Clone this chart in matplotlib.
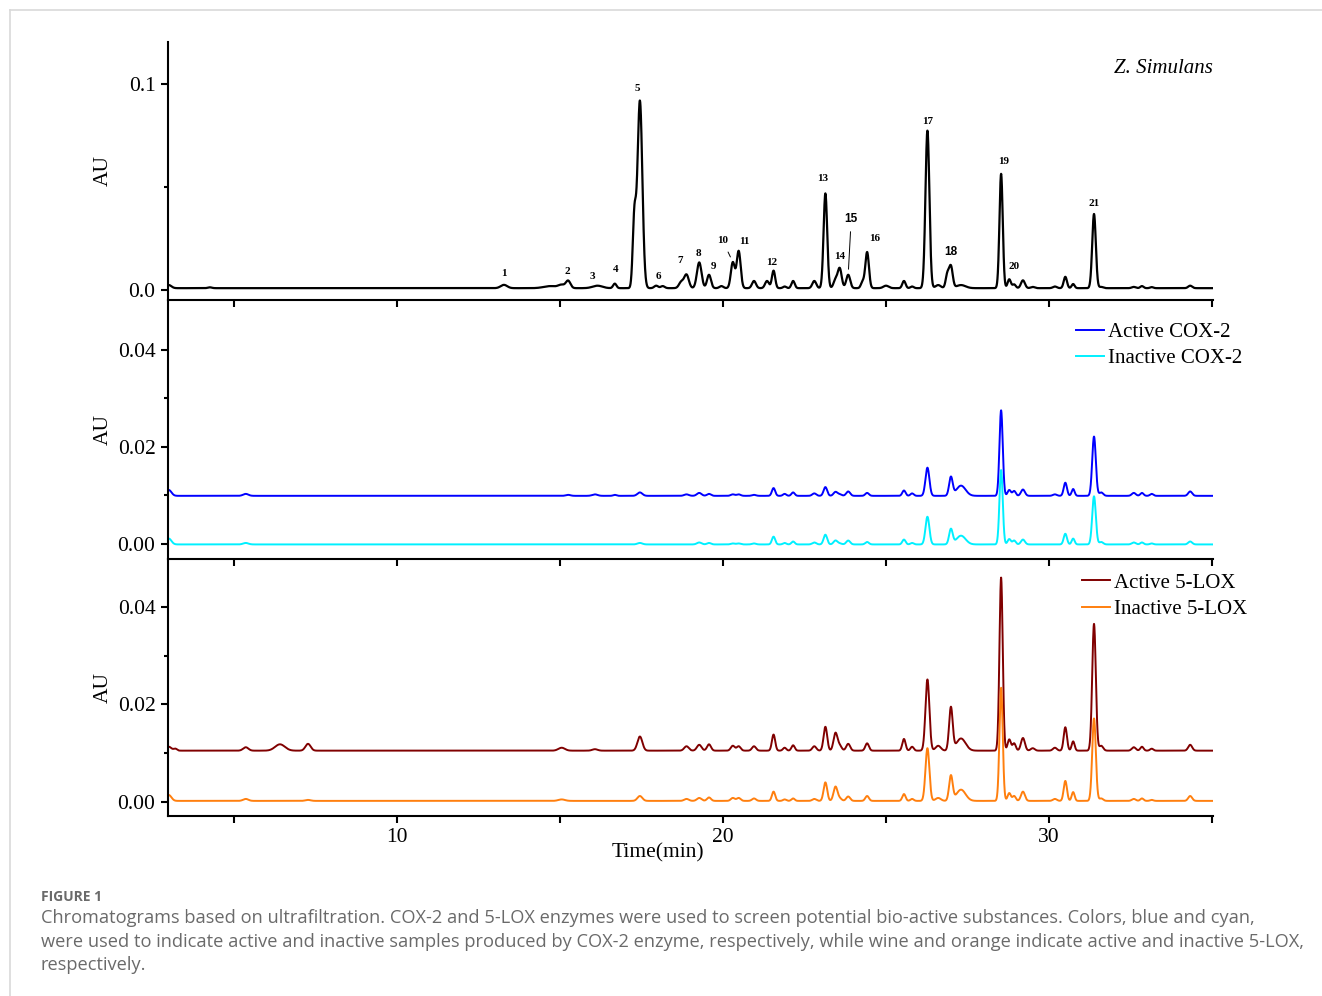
import numpy as np
import matplotlib.pyplot as plt
from matplotlib.lines import Line2D

# peak table (retention time in min, width sigma in min,
# peak height in AU above each trace's baseline)
rt = [3.00, 3.20, 4.26, 5.36, 6.41, 7.27, 13.28, 14.70, 15.05, 15.25, 16.07, 16.15,
      16.68, 17.28, 17.45, 17.95, 18.15, 18.72, 18.88, 19.27, 19.57, 19.95, 20.30,
      20.48, 20.95, 21.35, 21.55, 21.89, 22.15, 22.80, 23.14, 23.45, 23.58, 23.84,
      24.28, 24.42, 25.00, 25.55, 25.80, 26.27, 26.60, 26.88, 26.99, 27.30, 28.53,
      28.78, 28.93, 29.20, 29.50, 30.18, 30.50, 30.74, 31.38, 31.60, 32.60, 32.85,
      33.15, 34.33]
width = [0.08, 0.05, 0.06, 0.08, 0.15, 0.08, 0.10, 0.20, 0.10, 0.07, 0.08, 0.15,
         0.05, 0.05, 0.075, 0.06, 0.06, 0.07, 0.07, 0.07, 0.06, 0.06, 0.06,
         0.06, 0.06, 0.06, 0.05, 0.05, 0.05, 0.06, 0.055, 0.06, 0.06, 0.06,
         0.05, 0.055, 0.08, 0.05, 0.05, 0.06, 0.08, 0.05, 0.055, 0.14, 0.05,
         0.05, 0.05, 0.06, 0.06, 0.06, 0.05, 0.045, 0.055, 0.06, 0.06, 0.05,
         0.05, 0.06]
zs_height = [0.0015, 0.0, 0.0004, 0.0, 0.0, 0.0, 0.0016, 0.0010, 0.0015, 0.0035, 0.0, 0.0012,
             0.0022, 0.0330, 0.0910, 0.0012, 0.0010, 0.0030, 0.0065, 0.0125, 0.0065, 0.0010, 0.0125,
             0.0180, 0.0035, 0.0035, 0.0085, 0.0008, 0.0035, 0.0035, 0.0460, 0.0040, 0.0095, 0.0065,
             0.0030, 0.0175, 0.0012, 0.0035, 0.0008, 0.0765, 0.0015, 0.0065, 0.0105, 0.0015, 0.0555,
             0.0043, 0.0018, 0.0038, 0.0006, 0.0008, 0.0055, 0.0020, 0.0360, 0.0006, 0.0006, 0.0010,
             0.0005, 0.0012]
cox_active = [0.0012, 0.0, 0.0, 0.0004, 0.0, 0.0, 0.0, 0.0, 0.0, 0.0002, 0.0003, 0.0,
              0.0002, 0.0, 0.0007, 0.0, 0.0, 0.0, 0.0003, 0.0006, 0.0004, 0.0, 0.0003,
              0.0003, 0.0002, 0.0, 0.0016, 0.0004, 0.0007, 0.0005, 0.0018, 0.0008, 0.0003, 0.0009,
              0.0, 0.0006, 0.0, 0.0011, 0.0005, 0.0058, 0.0, 0.0, 0.0038, 0.0021, 0.0176,
              0.0012, 0.0010, 0.0013, 0.0, 0.0003, 0.0027, 0.0014, 0.0122, 0.0007, 0.0006, 0.0006,
              0.0004, 0.0009]
cox_inactive = [0.0012, 0.0, 0.0, 0.0003, 0.0, 0.0, 0.0, 0.0, 0.0, 0.0, 0.0, 0.0,
                0.0, 0.0, 0.0003, 0.0, 0.0, 0.0, 0.0, 0.0004, 0.0003, 0.0, 0.0002,
                0.0002, 0.0002, 0.0, 0.0016, 0.0003, 0.0006, 0.0004, 0.0020, 0.0008, 0.0002, 0.0008,
                0.0, 0.0005, 0.0, 0.0010, 0.0003, 0.0057, 0.0, 0.0, 0.0031, 0.0018, 0.0153,
                0.0011, 0.0008, 0.0010, 0.0, 0.0, 0.0022, 0.0012, 0.0099, 0.0005, 0.0004, 0.0004,
                0.0002, 0.0006]
lox_active = [0.0008, 0.0004, 0.0, 0.0007, 0.0013, 0.0014, 0.0, 0.0, 0.0006, 0.0, 0.0003, 0.0,
              0.0, 0.0, 0.0029, 0.0, 0.0, 0.0, 0.0009, 0.0012, 0.0013, 0.0, 0.0010,
              0.0009, 0.0009, 0.0, 0.0033, 0.0006, 0.0011, 0.0009, 0.0049, 0.0036, 0.0010, 0.0014,
              0.0, 0.0015, 0.0, 0.0024, 0.0008, 0.0146, 0.0010, 0.0, 0.0088, 0.0025, 0.0355,
              0.0023, 0.0015, 0.0026, 0.0005, 0.0006, 0.0048, 0.0019, 0.0260, 0.0010, 0.0007, 0.0008,
              0.0004, 0.0012]
lox_inactive = [0.0012, 0.0, 0.0, 0.0004, 0.0, 0.0002, 0.0, 0.0, 0.0003, 0.0, 0.0, 0.0,
                0.0, 0.0, 0.0010, 0.0, 0.0, 0.0, 0.0004, 0.0006, 0.0007, 0.0, 0.0006,
                0.0006, 0.0005, 0.0, 0.0019, 0.0003, 0.0005, 0.0004, 0.0038, 0.0029, 0.0005, 0.0009,
                0.0, 0.0010, 0.0, 0.0014, 0.0004, 0.0108, 0.0006, 0.0, 0.0051, 0.0023, 0.0232,
                0.0016, 0.0010, 0.0019, 0.0, 0.0004, 0.0041, 0.0018, 0.0169, 0.0005, 0.0004, 0.0005,
                0.0002, 0.0010]

# baseline level of each run (AU)
zs_base = 0.0009
cox_active_base = 0.0099
cox_inactive_base = -0.0001
lox_active_base = 0.0105
lox_inactive_base = 0.0002

# numbered peaks in the Z. simulans trace
label_text = [str(i) for i in range(1, 22)]
label_rt = [13.28, 15.25, 16.15, 16.68, 17.45, 17.95, 18.88, 19.27, 19.57, 20.30, 20.48,
            21.55, 23.14, 23.58, 23.84, 24.42, 26.27, 26.99, 28.53, 28.78, 31.38]

# label offsets from peak apex, in pixels (dx, dy)
label_offset = [(0, 11), (-1, 9), (-5, 9), (1, 14), (-3, 12), (2, 9), (-6, 14), (-1, 9), (4, 8),
                (-10, 21), (6, 9), (-2, 8), (-3, 15), (0, 11), (3, 56), (8, 13), (0, 9),
                (0, 13), (3, 12), (5, 13), (0, 11)]

t = np.linspace(2.9, 35.1, 8000)


def trace(heights, base):
    y = np.full_like(t, base)
    for r, s, h in zip(rt, width, heights):
        if h:
            y += h * np.exp(-0.5 * ((t - r) / s) ** 2)
    return y


plt.rcParams['font.family'] = ['Liberation Serif', 'DejaVu Serif']
plt.rcParams['axes.linewidth'] = 1.5
plt.rcParams['xtick.major.width'] = 1.5
plt.rcParams['ytick.major.width'] = 1.5
plt.rcParams['xtick.minor.width'] = 1.5
plt.rcParams['ytick.minor.width'] = 1.5

fig = plt.figure(figsize=(13.22, 9.96), dpi=100)
W, H = 1322.0, 996.0
left, right = 168 / W, 1213 / W
ax1 = fig.add_axes([left, 1 - 300 / H, right - left, 258 / H])
ax2 = fig.add_axes([left, 1 - 559 / H, right - left, 259 / H])
ax3 = fig.add_axes([left, 1 - 816 / H, right - left, 257 / H])

for ax in (ax1, ax2, ax3):
    ax.set_facecolor('none')
    ax.spines['top'].set_visible(False)
    ax.spines['right'].set_visible(False)
    ax.set_xlim(2.975, 35.03)
    ax.set_xticks([10, 20, 30])
    ax.set_xticks([5, 15, 25, 35], minor=True)
    ax.tick_params(axis='both', which='major', direction='out', length=5, pad=4, labelsize=15.5)
    ax.tick_params(axis='both', which='minor', direction='out', length=3)
    ax.tick_params(axis='x', which='minor', length=5)
    ax.set_ylabel('AU', fontsize=15.5)
    ax.yaxis.set_label_coords(-0.0526, 0.5)
ax1.set_zorder(3)
ax2.set_zorder(2)
ax1.tick_params(axis='x', labelbottom=False)
ax2.tick_params(axis='x', labelbottom=False)

# top: Z. simulans extract
y_zs = trace(zs_height, zs_base)
ax1.plot(t, y_zs, color='black', lw=1.6)
ax1.set_ylim(-0.00485, 0.1204)
ax1.set_yticks([0.0, 0.1])
ax1.set_yticks([0.05], minor=True)
ax1.set_yticklabels(['0.0', '0.1'])
ax1.text(0.9995, 0.899, 'Z. Simulans', transform=ax1.transAxes, ha='right', va='center',
         fontsize=15, style='italic')

for txt, r, (dx, dy) in zip(label_text, label_rt, label_offset):
    near = np.abs(t - r) < 0.06
    apex = y_zs[near].max()
    kw = dict(ha='center', va='center', fontsize=8, fontweight='bold')
    if txt in ('15', '18'):
        kw.update(family='Liberation Sans', fontsize=8.5)
    if txt in ('10', '15'):
        kw['arrowprops'] = dict(arrowstyle='-', lw=0.7, color='black', shrinkA=3, shrinkB=4)
    ax1.annotate(txt, xy=(r, apex), xytext=(dx * 0.72, dy * 0.72), textcoords='offset points', **kw)

# middle: COX-2 ultrafiltration
ax2.plot(t, trace(cox_active, cox_active_base), color='#0000ff', lw=1.4, label='Active COX-2')
ax2.plot(t, trace(cox_inactive, cox_inactive_base), color='#00f0ff', lw=1.4, label='Inactive COX-2')
ax2.set_ylim(-0.0031, 0.0502)
ax2.set_yticks([0.0, 0.02, 0.04])
ax2.set_yticks([0.01, 0.03], minor=True)
ax2.set_yticklabels(['0.00', '0.02', '0.04'])
ax2.legend(loc='upper left', bbox_to_anchor=(0.869, 0.912), frameon=False, fontsize=15,
           handlelength=1.35, handletextpad=0.2, labelspacing=0.3, borderpad=0, borderaxespad=0)

# bottom: 5-LOX ultrafiltration
ax3.plot(t, trace(lox_active, lox_active_base), color='#800000', lw=1.4, label='Active 5-LOX')
ax3.plot(t, trace(lox_inactive, lox_inactive_base), color='#ff7f0e', lw=1.4, label='Inactive 5-LOX')
ax3.set_ylim(-0.0029, 0.0498)
ax3.set_yticks([0.0, 0.02, 0.04])
ax3.set_yticks([0.01, 0.03], minor=True)
ax3.set_yticklabels(['0.00', '0.02', '0.04'])
ax3.legend(loc='upper left', bbox_to_anchor=(0.8746, 0.945), frameon=False, fontsize=15,
           handlelength=1.35, handletextpad=0.2, labelspacing=0.32, borderpad=0, borderaxespad=0)
fig.text(658 / W, 1 - 853 / H, 'Time(min)', ha='center', va='center', fontsize=15.5)

# page frame and caption
fig.add_artist(Line2D([10 / W, 1], [1 - 10 / H, 1 - 10 / H], color='#d9d9d9', lw=1.2))
fig.add_artist(Line2D([10 / W, 10 / W], [0, 1 - 10 / H], color='#d9d9d9', lw=1.2))
cap_font = ['Open Sans', 'DejaVu Sans']
fig.text(41 / W, 1 - 897 / H, 'FIGURE 1', ha='left', va='center', fontsize=10,
         color='#6a6a6a', family=cap_font, fontweight='bold')
caption = ('Chromatograms based on ultrafiltration. COX-2 and 5-LOX enzymes were used to screen '
           'potential bio-active substances. Colors, blue and cyan,\n'
           'were used to indicate active and inactive samples produced by COX-2 enzyme, respectively, '
           'while wine and orange indicate active and inactive 5-LOX,\n'
           'respectively.')
fig.text(41 / W, 1 - 909 / H, caption, ha='left', va='top', fontsize=13.15, color='#6a6a6a',
         family=cap_font, linespacing=1.41)

fig.savefig('out.png', dpi=100)
